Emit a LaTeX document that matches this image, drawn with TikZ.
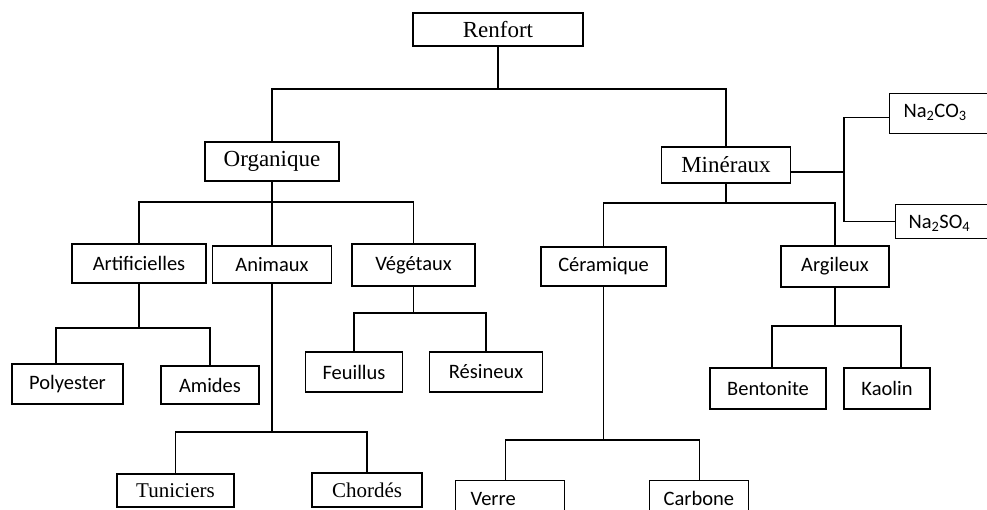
\documentclass[tikz,border=0pt]{standalone}
\usepackage{fontspec}
\setmainfont{Liberation Serif}
\newfontfamily\calibri{Carlito}
\usepackage{tikz}

\begin{document}
\begin{tikzpicture}[x=1pt, y=-1pt, every node/.style={scale=1}]
    \tikzstyle{boite}=[ %
      draw, rectangle,
      line width=1.3pt,
      inner sep=0,
      font=\fontsize{23}{27}\selectfont
    ]
    \tikzstyle{boitesf}=[boite, font=\calibri\fontsize{20.5}{24}\selectfont]
    \tikzstyle{boitept}=[boite, font=\fontsize{21}{25}\selectfont]
    \tikzstyle{lien}=[line width=1.3pt]
    \useasboundingbox (0,0) rectangle (987,510);
  %  \draw[help lines] (0,0) grid[step=50] (987,510);
    % niveau 1 et 2
    \path (498,29.5) node(ren) [boite, minimum width=170pt, minimum height=33pt] {Renfort}
          (272,161.5) node(org) [boite, minimum width=134pt, minimum height=39pt] {Organique}
          (726,165) node(min) [boite, minimum width=129pt, minimum height=36pt] {Minéraux};
    % niveau 3
    \path (139,263.5) node(art) [boitesf, minimum width=134pt, minimum height=39pt] {Artificielles}
          (272,264.5) node(ani) [boitesf, minimum width=119pt, minimum height=37pt] {Animaux}
          (413.5,265) node(veg) [boitesf, minimum width=123pt, minimum height=42pt] {Végétaux}
          (603.5,266.5) node(cer) [boitesf, minimum width=125pt, minimum height=39pt] {Céramique}
          (835,266.5) node(arg) [boitesf, minimum width=108pt, minimum height=41pt] {Argileux\hspace{10pt}};
    % sels
    \path (889,93) node(nac) [boitesf, anchor=north west, inner xsep=14pt, text width=84pt,
                               align=left, text height=24pt, text depth=16pt]
                {Na\textsubscript{2}CO\textsubscript{3}}
          (895,204) node(nas) [boitesf, anchor=north west, inner xsep=13pt, text width=80pt,
                               align=left, text height=24pt, text depth=10pt]
                {Na\textsubscript{2}SO\textsubscript{4}};
    % niveau 4
    \path (67.5,384) node(pol) [boitesf, minimum width=111pt, minimum height=40pt] {Polyester}
          (210,385) node(ami) [boitesf, minimum width=98pt, minimum height=38pt] {Amides}
          (354,372) node(feu) [boitesf, minimum width=97pt, minimum height=40pt] {Feuillus}
          (486,372) node(res) [boitesf, minimum width=113pt, minimum height=40pt] {Résineux}
          (768,388.5) node(ben) [boitesf, minimum width=116pt, minimum height=41pt] {Bentonite}
          (887,388.5) node(kao) [boitesf, minimum width=86pt, minimum height=41pt] {Kaolin};
    % niveau 5
    \path (175.5,490.5) node(tun) [boitept, minimum width=117pt, minimum height=33pt] {Tuniciers}
          (367,490) node(cho) [boitept, minimum width=110pt, minimum height=34pt] {Chordés}
          (455,480) node(ver) [boitesf, anchor=north west, inner xsep=15pt, text width=79pt,
                               align=left, text height=25pt, text depth=20pt] {Verre}
          (649,480) node(car) [boitesf, anchor=north west, inner xsep=14pt, text width=71pt,
                               align=left, text height=25pt, text depth=20pt] {Carbone};
    % traits
    \coordinate (h0) at (0,89);
    \coordinate (h1) at (0,202);
    \coordinate (h2) at (0,203);
    \coordinate (h3) at (0,328);
    \coordinate (h4) at (0,313);
    \coordinate (h5) at (0,326);
    \coordinate (h6) at (0,432);
    \coordinate (h7) at (0,440);
    \coordinate (v1) at (844,0);
    \draw[lien] (ren.south) -- (ren.south |- h0);
    \draw[lien] (org.north) -- (org.north |- h0) -| (min.north);
    \draw[lien] (art.north) -- (art.north |- h1) -| (veg.north);
    \draw[lien] (org.south) -- (ani.north);
    \draw[lien] (min.south) -- (min.south |- h2);
    \draw[lien] (cer.north) -- (cer.north |- h2) -| (arg.north);
    \draw[lien] ([yshift=-7pt]min.east) -- ([yshift=-7pt]min.east -| v1);
    \draw[lien] ([yshift=-4pt]nac.west) -| (v1 |- nas.west) -- (nas.west);
    \draw[lien] (art.south) -- (art.south |- h3);
    \draw[lien] ([xshift=-11.5pt]pol.north) |- (h3 -| ami.north) -- (ami.north);
    \draw[lien] (veg.south) -- (veg.south |- h4);
    \draw[lien] (feu.north) |- (h4 -| res.north) -- (res.north);
    \draw[lien] (arg.south) -- (arg.south |- h5);
    \draw[lien] ([xshift=4pt]ben.north) |- (h5 -| kao.north) -- ([xshift=14pt]kao.north |- h5) -- ([xshift=14pt]kao.north);
    \draw[lien] (ani.south) -- (ani.south |- h6);
    \draw[lien] (tun.north) |- (h6 -| cho.north) -- (cho.north);
    \draw[lien] (cer.south) -- (cer.south |- h7);
    \draw[lien] ([xshift=-4.5pt]ver.north) |- (h7 -| car.north) -- (car.north);
  \end{tikzpicture}
\end{document}
